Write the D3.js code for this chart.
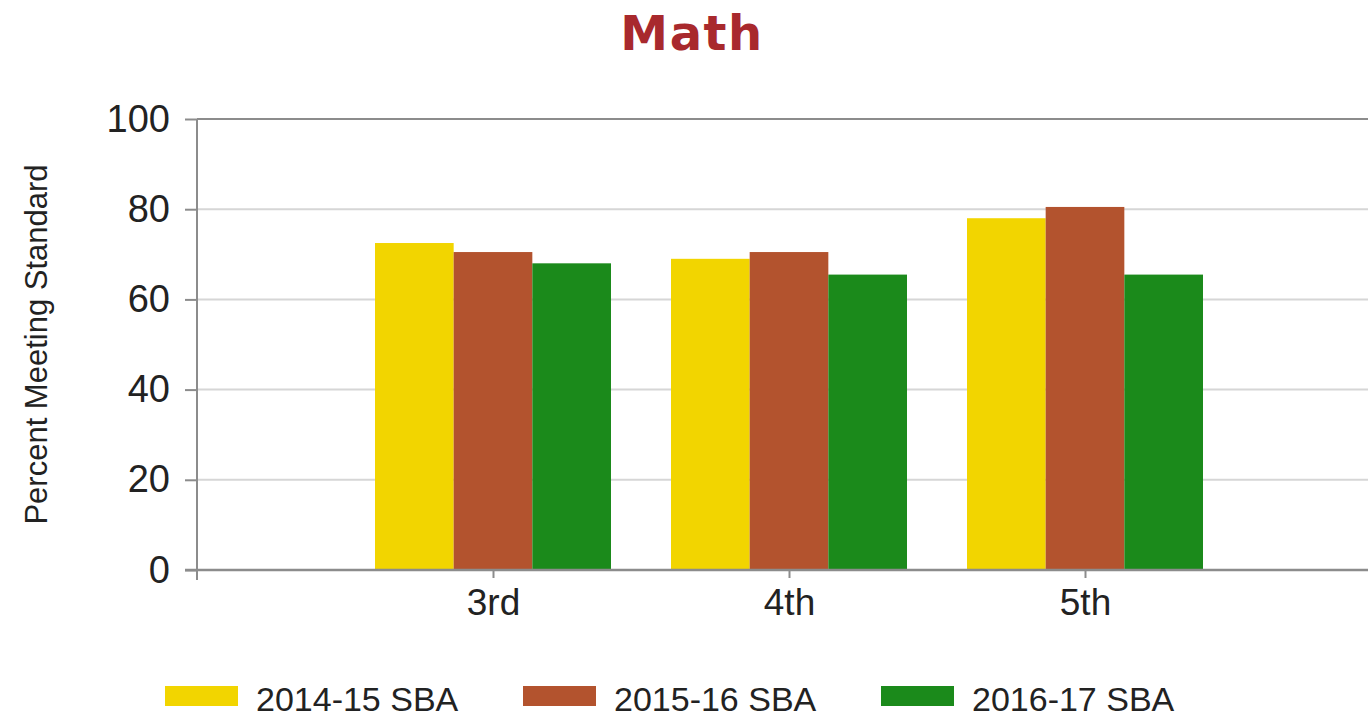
<!DOCTYPE html>
<html>
    <head>
        <style>
            body{
                margin: 0;
                background: #fff;
            }
            svg text{
                font-family: "Liberation Sans", Arial, sans-serif;
                fill: #222;
            }
        </style>
    </head>
    <body>
        <script src="https://d3js.org/d3.v7.min.js"></script>
        <script>
            // chart values
            const grades = ["3rd", "4th", "5th"]
            const seriesNames = ["2014-15 SBA", "2015-16 SBA", "2016-17 SBA"]
            const sba1415 = [72.5, 69, 78]
            const sba1516 = [70.5, 70.5, 80.5]
            const sba1617 = [68, 65.5, 65.5]
            const yTicks = [0, 20, 40, 60, 80, 100]
            const colors = ["#f2d500", "#b3532e", "#1b8a1b"]

            const w = 1368
            const h = 721
            const plotLeft = 197
            const slot = 296   // spacing between category slots
            const plotTop = 119
            const plotBottom = 570

            const svg = d3.select("body").append("svg").attr("width", w).attr("height", h)

            // slots 0..4, categories sit on slots 1..3 like the original
            const xScale = d3.scaleLinear().domain([0, 4]).range([plotLeft, plotLeft + slot * 4])
            const yScale = d3.scaleLinear().domain([0, 100]).range([plotBottom, plotTop])

            const inner = d3.scaleBand().domain(seriesNames).range([-118, 118]).padding(0)

            // gridlines
            svg.append("g").selectAll("line").data(yTicks.filter(d => d > 0)).enter().append("line")
                .attr("x1", plotLeft).attr("x2", w)
                .attr("y1", d => yScale(d)).attr("y2", d => yScale(d))
                .attr("stroke", d => d == 100 ? "#8c8c8c" : "#d6d6d6")
                .attr("stroke-width", 2)

            // bars
            const series = [sba1415, sba1516, sba1617]
            const rows = []
            series.forEach((vals, s) => {
                vals.forEach((v, i) => rows.push({s: s, i: i, v: v}))
            })
            svg.append("g").selectAll("rect").data(rows).enter().append("rect")
                .attr("x", d => xScale(d.i + 1) + inner(seriesNames[d.s]))
                .attr("width", inner.bandwidth())
                .attr("y", d => yScale(d.v))
                .attr("height", d => yScale(0) - yScale(d.v))
                .attr("fill", d => colors[d.s])

            // y axis
            const yAxis = d3.axisLeft(yScale).tickValues(yTicks).tickSize(12).tickPadding(15).tickSizeOuter(0)
            const gy = svg.append("g").attr("transform", "translate(" + plotLeft + ",0)").call(yAxis)
            gy.select(".domain").remove()
            gy.selectAll("line").attr("stroke", "#8c8c8c").attr("stroke-width", 2)
            gy.selectAll("text").style("font-size", "38px").style("fill", "#222")
            svg.append("line")
                .attr("x1", plotLeft).attr("x2", plotLeft)
                .attr("y1", yScale(100)).attr("y2", yScale(0) + 10)
                .attr("stroke", "#8c8c8c").attr("stroke-width", 2)

            // x axis
            const xAxis = d3.axisBottom(xScale).tickValues([1, 2, 3])
                .tickFormat(d => grades[d - 1]).tickSize(8).tickPadding(11).tickSizeOuter(0)
            const gx = svg.append("g").attr("transform", "translate(0," + plotBottom + ")").call(xAxis)
            gx.select(".domain").remove()
            gx.selectAll("line").attr("stroke", "#8c8c8c").attr("stroke-width", 2)
            gx.selectAll("text").style("font-size", "37px").style("fill", "#222")
            svg.append("line")
                .attr("x1", plotLeft - 12).attr("x2", w)
                .attr("y1", yScale(0)).attr("y2", yScale(0))
                .attr("stroke", "#8c8c8c").attr("stroke-width", 2.5)

            // title
            svg.append("text")
                .attr("x", 692).attr("y", 50)
                .attr("text-anchor", "middle")
                .style("font-family", "'DejaVu Sans', Verdana, sans-serif")
                .style("font-weight", "bold")
                .style("font-size", "48px")
                .style("letter-spacing", "1.5px")
                .style("fill", "#a8292d")
                .text("Math")

            // y axis title
            svg.append("text")
                .attr("transform", "translate(47," + ((plotTop + plotBottom) / 2) + ") rotate(-90)")
                .attr("text-anchor", "middle")
                .style("font-size", "31px")
                .text("Percent Meeting Standard")

            // legend, items on a fixed spacing
            const legendStep = 358
            const legend = svg.append("g").attr("transform", "translate(165,686)")
            seriesNames.forEach((name, i) => {
                const item = legend.append("g").attr("transform", "translate(" + (i * legendStep) + ",0)")
                item.append("rect").attr("width", 73).attr("height", 20).attr("fill", colors[i])
                item.append("text").attr("x", 91).attr("y", 25)
                    .style("font-size", "34px").text(name)
            })
        </script>
    </body>
</html>
